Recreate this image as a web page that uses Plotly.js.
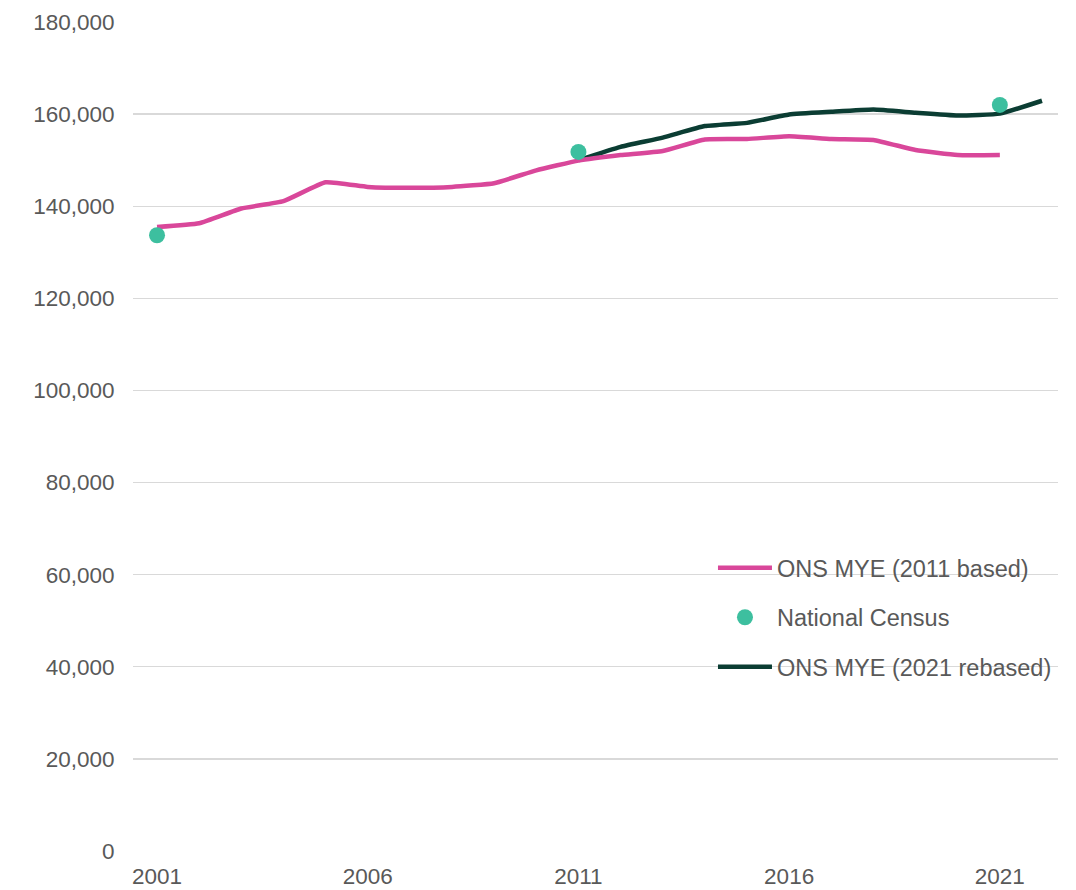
<!DOCTYPE html>
<html>
<head>
<meta charset="utf-8">
<script src="https://cdn.plot.ly/plotly-3.0.1.min.js"></script>
<style>
  html, body { margin: 0; padding: 0; background: #fff; }
  #chart { width: 1076px; height: 890px; }
</style>
</head>
<body>
<div id="chart"></div>
<script>
// population estimates
var years2011 = [2001, 2002, 2003, 2004, 2005, 2006, 2007, 2008, 2009, 2010, 2011,
                 2012, 2013, 2014, 2015, 2016, 2017, 2018, 2019, 2020, 2021];
var mye2011 = [135500, 136300, 139500, 141100, 145200, 144200, 144000, 144200, 145000, 147800, 149900,
               151100, 152000, 154500, 154600, 155200, 154600, 154400, 152200, 151100, 151100];

var censusYears = [2001, 2011, 2021];
var census = [133700, 151800, 162000];

var years2021 = [2011, 2012, 2013, 2014, 2015, 2016, 2017, 2018, 2019, 2020, 2021, 2022];
var mye2021 = [150000, 152900, 154900, 157400, 158100, 159900, 160500, 161000, 160300, 159700, 160100, 162900];

var xTicks = [2001, 2006, 2011, 2016, 2021];

var pink = {
  x: years2011, y: mye2011,
  type: 'scatter', mode: 'lines',
  name: 'ONS MYE (2011 based)',
  legendgroup: 'a', legendrank: 1,
  line: {color: '#d9479a', width: 4.5, shape: 'spline', smoothing: 0.4}
};

var dark = {
  x: years2021, y: mye2021,
  type: 'scatter', mode: 'lines',
  name: 'ONS MYE (2021 rebased)',
  legendgroup: 'c', legendrank: 3,
  line: {color: '#0b3d33', width: 4.5, shape: 'spline', smoothing: 0.4}
};

var dots = {
  x: censusYears, y: census,
  type: 'scatter', mode: 'markers',
  name: 'National Census',
  legendgroup: 'b', legendrank: 2,
  marker: {color: '#3dbf9f', size: 16}
};

// drawing order: dark under pink, dots on top
var data = [dark, pink, dots];

var layout = {
  width: 1076,
  height: 890,
  margin: {l: 133, r: 18, t: 22, b: 39},
  paper_bgcolor: '#fff',
  plot_bgcolor: '#fff',
  font: {family: 'Liberation Sans, Arial, sans-serif', size: 22.5, color: '#595959'},
  showlegend: true,
  legend: {
    x: 0.627, y: 0.368, xanchor: 'left', yanchor: 'top',
    bgcolor: 'rgba(0,0,0,0)',
    traceorder: 'grouped',
    tracegroupgap: 16,
    itemwidth: 54,
    font: {size: 23.5, color: '#595959'}
  },
  xaxis: {
    range: [2000.43, 2022.38],
    tickvals: xTicks,
    ticktext: xTicks.map(String),
    showgrid: false,
    zeroline: false,
    showline: false,
    ticks: 'outside', ticklen: 5, tickcolor: 'rgba(0,0,0,0)'
  },
  yaxis: {
    range: [0, 180000],
    dtick: 20000,
    tickformat: ',',
    gridcolor: '#d9d9d9',
    gridwidth: 1.3,
    zeroline: false,
    showline: false,
    ticks: 'outside', ticklen: 13, tickcolor: 'rgba(0,0,0,0)'
  }
};

Plotly.newPlot('chart', data, layout, {displayModeBar: false, staticPlot: true});
</script>
</body>
</html>
